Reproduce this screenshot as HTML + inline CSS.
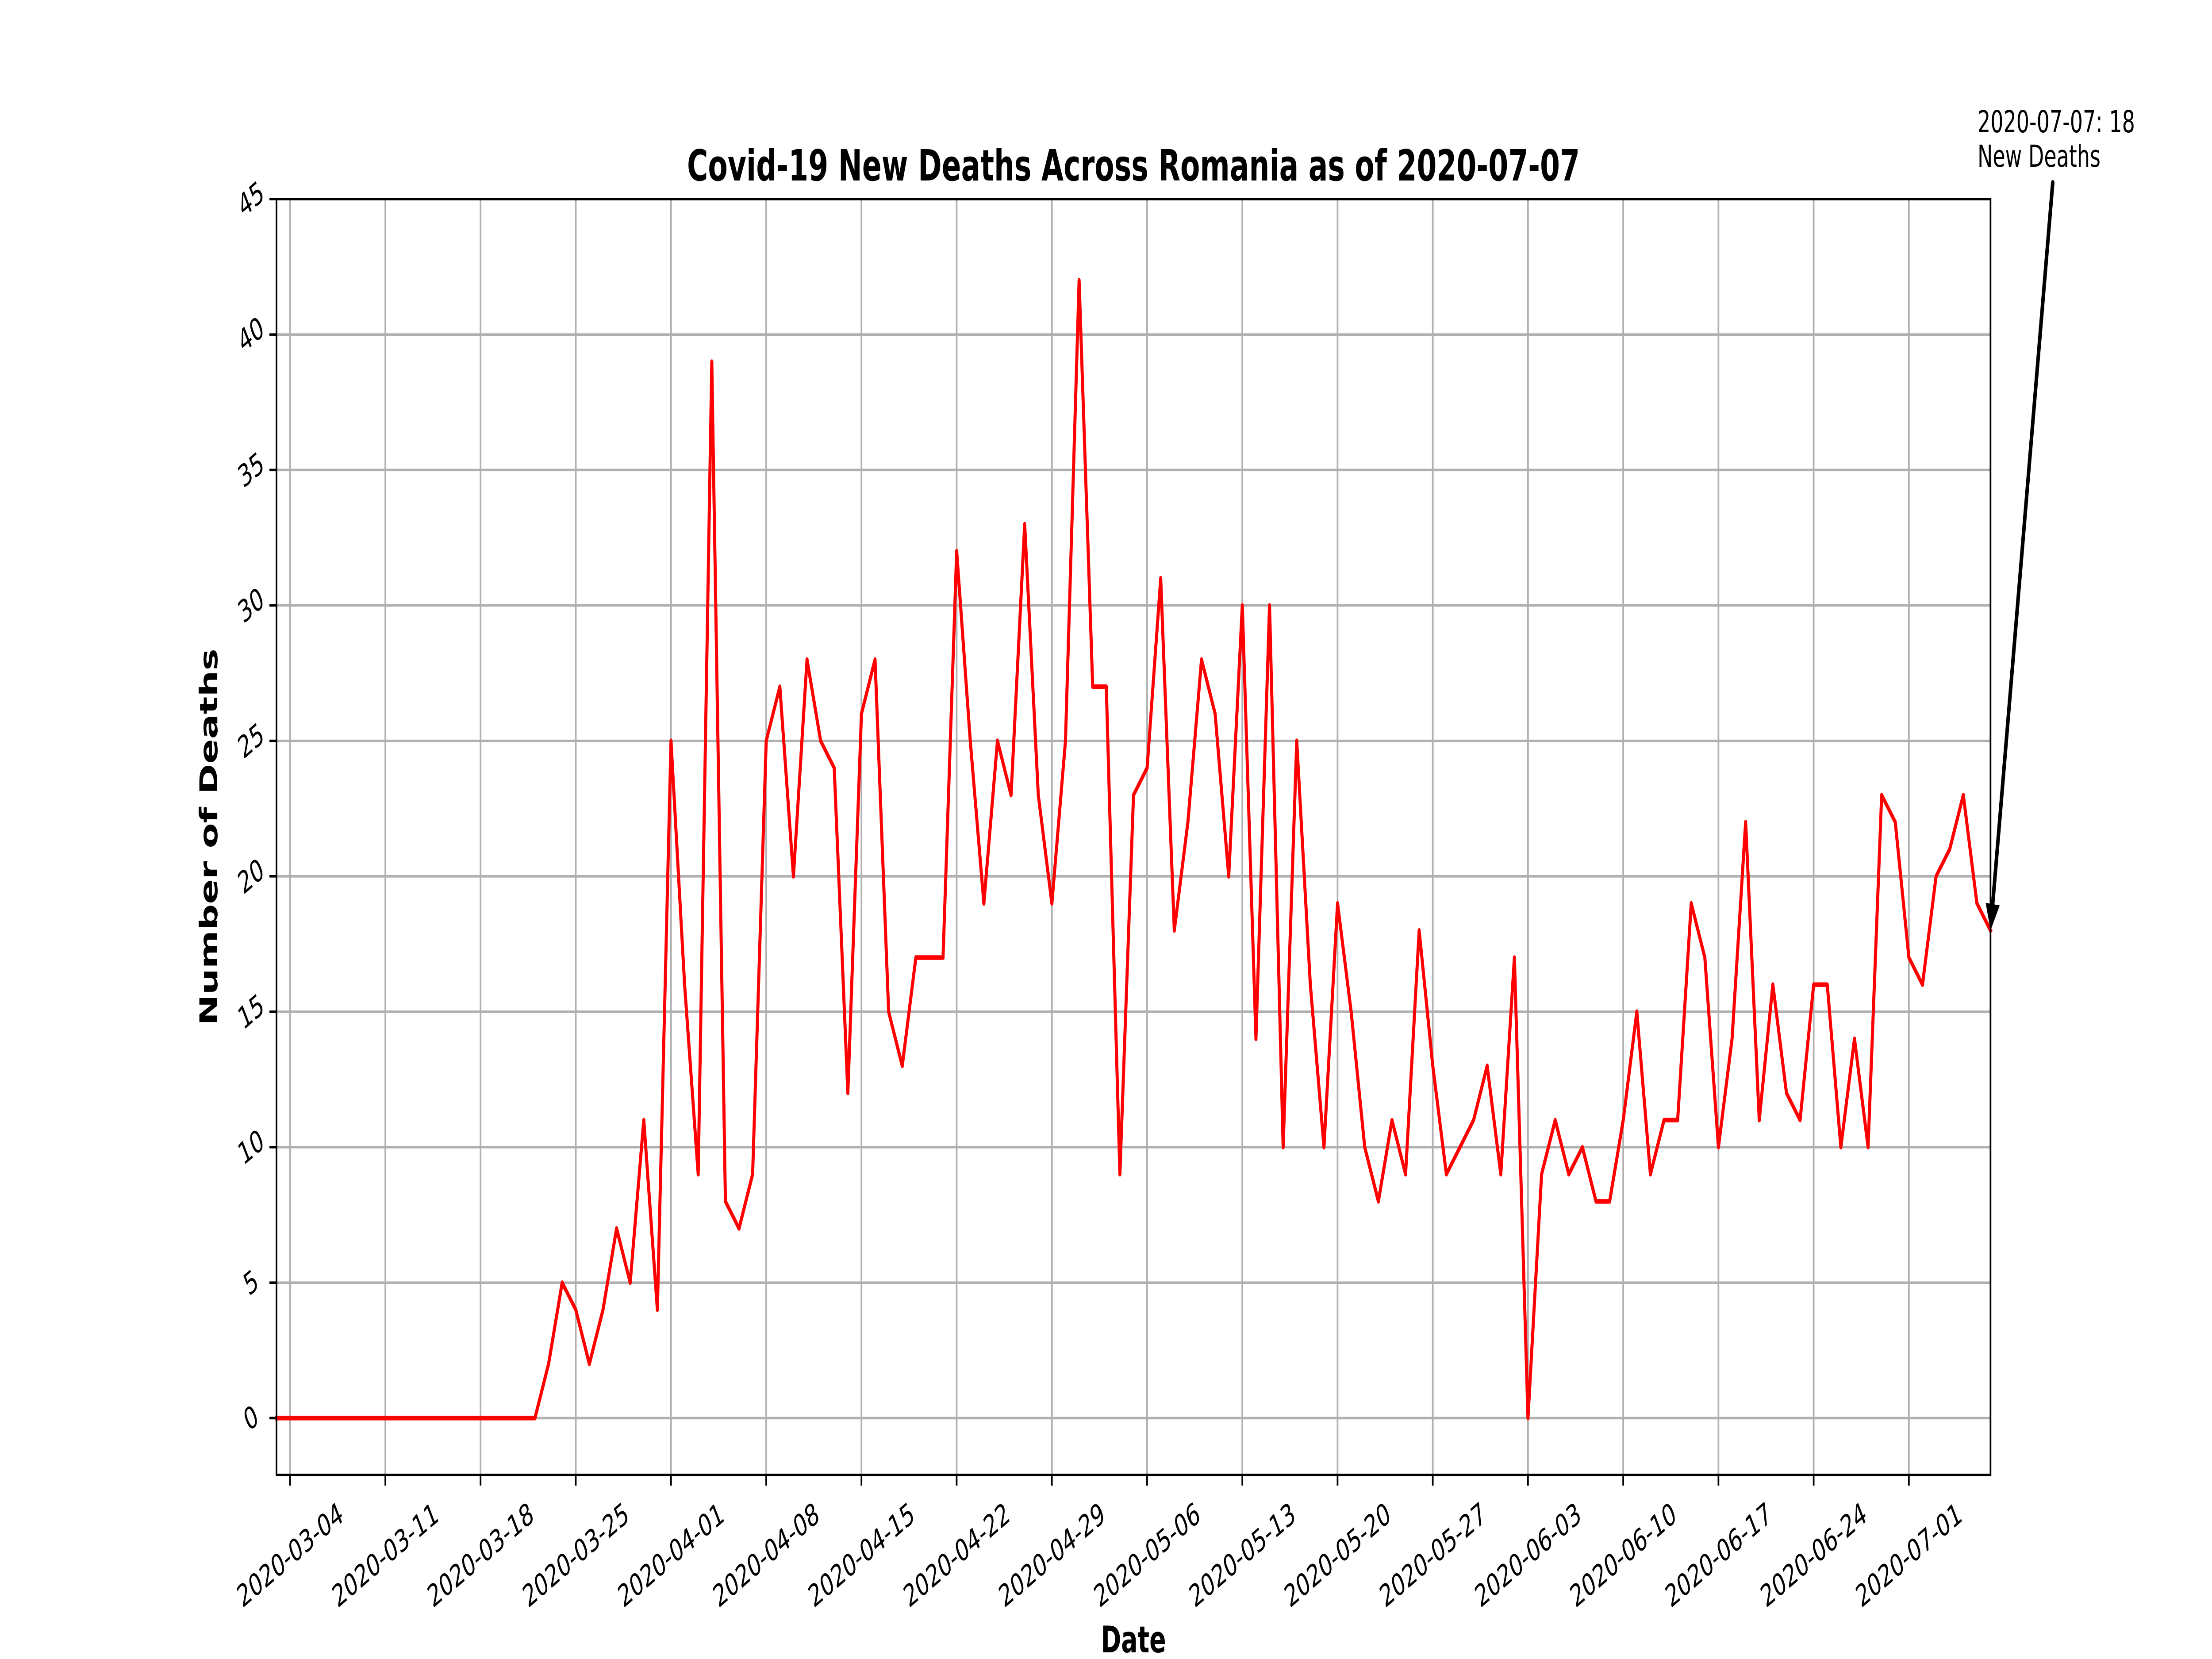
<!DOCTYPE html>
<html>
<head>
<meta charset="utf-8">
<style>
  html, body { margin: 0; padding: 0; background: #ffffff; overflow: hidden; width: 100%; height: 100%; }
  svg { display: block; width: 100vw; height: 100vh; }
  text { font-family: "DejaVu Sans", "Liberation Sans", sans-serif; fill: #000; }
</style>
</head>
<body>
<svg id="chart" viewBox="0 0 7500 3750" preserveAspectRatio="none" xmlns="http://www.w3.org/2000/svg">
  <rect x="0" y="0" width="7500" height="3750" fill="#ffffff"/>
  <g id="grid"></g>
  <g id="series"></g>
  <g id="axes"></g>
  <text x="3843" y="408" text-anchor="middle" font-size="97" font-weight="bold">Covid-19 New Deaths Across Romania as of 2020-07-07</text>
  <text x="3843" y="3707" text-anchor="middle" dominant-baseline="central" font-size="83" font-weight="bold">Date</text>
  <text x="708" y="1892" text-anchor="middle" dominant-baseline="central" font-size="83" font-weight="bold" transform="rotate(-90 708 1892)">Number of Deaths</text>
  <g id="annot"></g>
</svg>
<script>
// Data: daily new deaths starting 2020-03-03
const startDate = "2020-03-03";
const deaths = [
  0,0,0,0,0,0,0,0,0,0, 0,0,0,0,0,0,0,0,0,0,
  2,5,4,2,4,7,5,11,4,25, 16,9,39,8,7,9,25,27,20,28,
  25,24,12,26,28,15,13,17,17,17, 32,25,19,25,23,33,23,19,25,42,
  27,27,9,23,24,31,18,22,28,26, 20,30,14,30,10,25,16,10,19,15,
  10,8,11,9,18,13,9,10,11,13, 9,17,0,9,11,9,10,8,8,11,
  15,9,11,11,19,17,10,14,22,11, 16,12,11,16,16,10,14,10,23,22,
  17,16,20,21,23,19,18
];
const xTickLabels = ["2020-03-04","2020-03-11","2020-03-18","2020-03-25","2020-04-01","2020-04-08","2020-04-15","2020-04-22","2020-04-29","2020-05-06","2020-05-13","2020-05-20","2020-05-27","2020-06-03","2020-06-10","2020-06-17","2020-06-24","2020-07-01"];
const yTickValues = [0,5,10,15,20,25,30,35,40,45];
const annotationLines = ["2020-07-07: 18", "New Deaths"];

const NS = "http://www.w3.org/2000/svg";
const L = 937.5, R = 6749, T = 450, B = 3334;
const yMin = -2.1, yMax = 45;
const dayMs = 86400000;
const t0 = Date.parse(startDate + "T00:00:00Z");
const nDays = deaths.length - 1;
function xDay(d) { return L + (R - L) * d / nDays; }
function xDate(s) { return xDay((Date.parse(s + "T00:00:00Z") - t0) / dayMs); }
function yVal(v) { return B - (B - T) * (v - yMin) / (yMax - yMin); }
function mk(tag, attrs, parent) {
  const e = document.createElementNS(NS, tag);
  for (const k in attrs) e.setAttribute(k, attrs[k]);
  parent.appendChild(e);
  return e;
}
const grid = document.getElementById("grid");
const axes = document.getElementById("axes");
const series = document.getElementById("series");
const annot = document.getElementById("annot");

xTickLabels.forEach(function(lbl) {
  const x = xDate(lbl);
  const g = mk("line", {x1: x, x2: x, y1: T, y2: B, stroke: "#b0b0b0", "stroke-width": 5.6}, grid);
  
  
  const tk = mk("line", {x1: x, x2: x, y1: B, y2: B + 24, stroke: "#000", "stroke-width": 5.6}, axes);
  
  
  const cy = 3515;
  const tx = mk("text", {x: x, y: cy, "text-anchor": "middle", "dominant-baseline": "central", "font-size": 69, transform: "rotate(-30 " + x + " " + cy + ")"}, axes);
  tx.textContent = lbl;
  
  
});
yTickValues.forEach(function(v) {
  const y = yVal(v);
  const g = mk("line", {x1: L, x2: R, y1: y, y2: y, stroke: "#b0b0b0", "stroke-width": 5.6}, grid);
  
  
  const tk = mk("line", {x1: L - 24, x2: L, y1: y, y2: y, stroke: "#000", "stroke-width": 5.6}, axes);
  
  
  const cx = 851;
  const tx = mk("text", {x: cx, y: y, "text-anchor": "middle", "dominant-baseline": "central", "font-size": 69, transform: "rotate(-30 " + cx + " " + y + ")"}, axes);
  tx.textContent = String(v);
  
  
});
const frame = mk("rect", {x: L, y: T, width: R - L, height: B - T, fill: "none", stroke: "#000", "stroke-width": 5.6}, axes);



const pts = deaths.map(function(v, i) { return xDay(i).toFixed(1) + "," + yVal(v).toFixed(1); }).join(" ");
const line = mk("polyline", {points: pts, fill: "none", stroke: "#ff0000", "stroke-width": 10.4, "stroke-linejoin": "round", "stroke-linecap": "square"}, series);



annotationLines.forEach(function(s, i) {
  const t = mk("text", {x: 6705, y: 299 + i * 78, "font-size": 69}, annot);
  t.textContent = s;
  
  
});
const lastX = xDay(deaths.length - 1), lastY = yVal(deaths[deaths.length - 1]);
const sx = 6960, sy = 413;
const dx = lastX - sx, dy = lastY - sy, len = Math.hypot(dx, dy);
const ux = dx / len, uy = dy / len, hl = 60, hw = 24;
const bx = lastX - ux * hl, by = lastY - uy * hl;
const shaft = mk("line", {x1: sx, y1: sy, x2: bx, y2: by, stroke: "#000", "stroke-width": 12, "stroke-linecap": "round"}, annot);


const head = mk("polygon", {points: lastX + "," + lastY + " " + (bx - uy * hw) + "," + (by + ux * hw) + " " + (bx + uy * hw) + "," + (by - ux * hw), fill: "#000"}, annot);


</script>
</body>
</html>
